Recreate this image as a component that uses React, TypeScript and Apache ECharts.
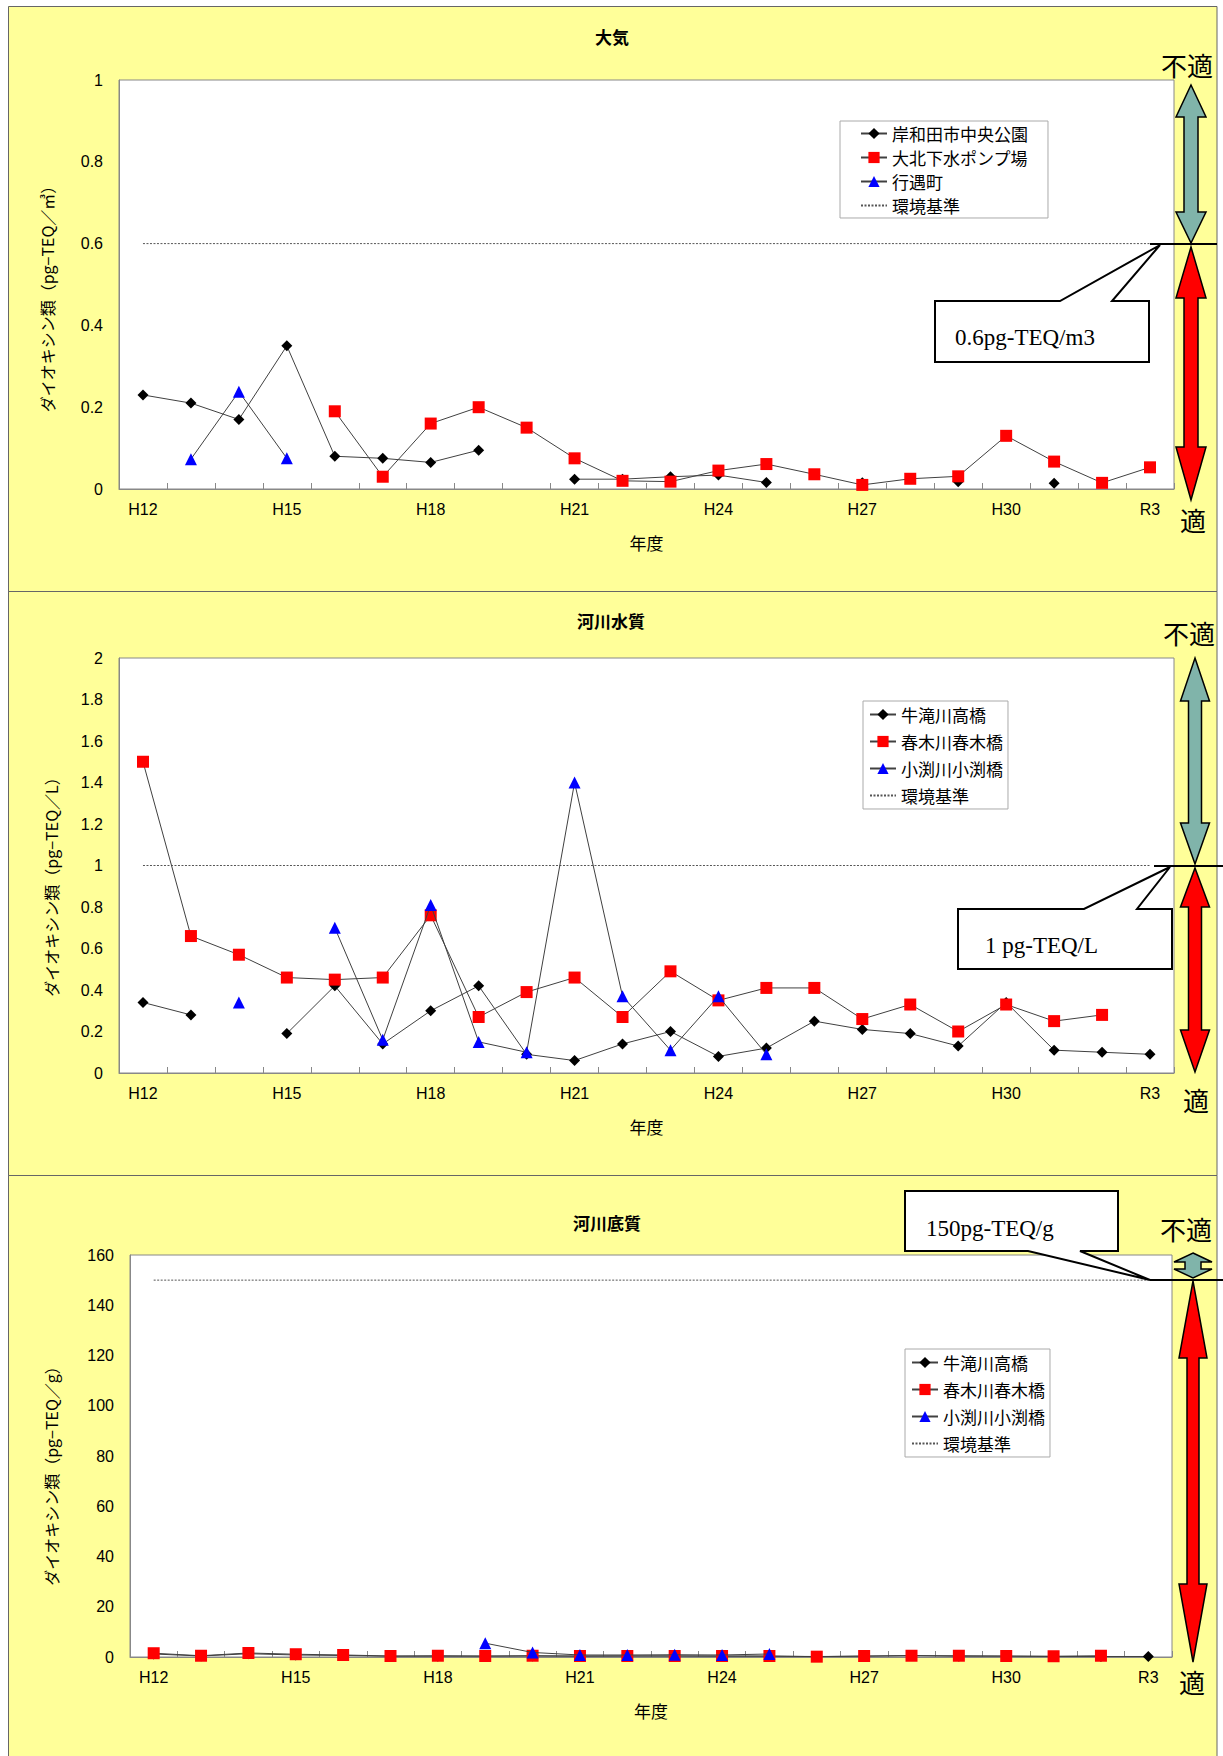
import React, { useEffect, useRef } from "react";
import * as echarts from "echarts";

const years = [
  "H12", "H13", "H14", "H15", "H16", "H17", "H18", "H19", "H20", "H21", "H22",
  "H23", "H24", "H25", "H26", "H27", "H28", "H29", "H30", "H31", "R2", "R3",
];

// 大気 (pg-TEQ/m3)
const airKishiwadaPark = [0.23, 0.21, 0.17, 0.35, 0.08, 0.075, 0.065, 0.095, null, 0.024, 0.024, 0.03, 0.034, 0.016, null, 0.015, null, 0.018, null, 0.014, null, null];
const airOkitaPump = [null, null, null, null, 0.19, 0.03, 0.16, 0.2, 0.15, 0.075, 0.02, 0.018, 0.045, 0.061, 0.036, 0.01, 0.025, 0.031, 0.13, 0.067, 0.015, 0.053];
const airGyogu = [null, 0.073, 0.238, 0.075, null, null, null, null, null, null, null, null, null, null, null, null, null, null, null, null, null, null];
const airStandard = [0.6, 0.6, 0.6, 0.6, 0.6, 0.6, 0.6, 0.6, 0.6, 0.6, 0.6, 0.6, 0.6, 0.6, 0.6, 0.6, 0.6, 0.6, 0.6, 0.6, 0.6, 0.6];

// 河川水質 (pg-TEQ/L)
const waterUshitaki = [0.34, 0.28, null, 0.19, 0.42, 0.14, 0.3, 0.42, 0.09, 0.06, 0.14, 0.2, 0.08, 0.12, 0.25, 0.21, 0.19, 0.13, 0.34, 0.11, 0.1, 0.09];
const waterHaruki = [1.5, 0.66, 0.57, 0.46, 0.45, 0.46, 0.76, 0.27, 0.39, 0.46, 0.27, 0.49, 0.35, 0.41, 0.41, 0.26, 0.33, 0.2, 0.33, 0.25, 0.28, null];
const waterKobuchi = [null, null, 0.34, null, 0.7, 0.16, 0.81, 0.15, 0.1, 1.4, 0.37, 0.11, 0.37, 0.09, null, null, null, null, null, null, null, null];
const waterStandard = [1, 1, 1, 1, 1, 1, 1, 1, 1, 1, 1, 1, 1, 1, 1, 1, 1, 1, 1, 1, 1, 1];

// 河川底質 (pg-TEQ/g)
const sedUshitaki = [1.2, 0.4, 1.3, 0.8, 0.6, 0.3, 0.3, 0.3, 0.4, 0.3, 0.4, 0.4, 0.3, 0.3, 0.2, 0.3, 0.6, 0.3, 0.3, 0.2, 0.2, 0.2];
const sedHaruki = [1.5, 0.5, 1.6, 1.1, 0.8, 0.4, 0.5, 0.4, 0.5, 0.4, 0.4, 0.4, 0.4, 0.4, 0.13, 0.4, 0.5, 0.5, 0.4, 0.3, 0.5, null];
const sedKobuchi = [null, null, null, null, null, null, null, 5.5, 1.8, 0.8, 0.8, 0.9, 0.8, 1.2, null, null, null, null, null, null, null, null];
const sedStandard = [150, 150, 150, 150, 150, 150, 150, 150, 150, 150, 150, 150, 150, 150, 150, 150, 150, 150, 150, 150, 150, 150];

const panelTitles = ["大気", "河川水質", "河川底質"];
const yAxisNames = [
  "ダイオキシン類（pg−TEQ／㎥）",
  "ダイオキシン類（pg−TEQ／L）",
  "ダイオキシン類（pg−TEQ／g）",
];
const airSites = ["岸和田市中央公園", "大北下水ポンプ場", "行遇町"];
const riverSites = ["牛滝川高橋", "春木川春木橋", "小渕川小渕橋"];
const standardName = "環境基準";
const standardLabels = ["0.6pg-TEQ/m3", "1 pg-TEQ/L", "150pg-TEQ/g"];
const yRanges = [
  { min: 0, max: 1, interval: 0.2 },
  { min: 0, max: 2, interval: 0.2 },
  { min: 0, max: 160, interval: 20 },
];

const SANS = "'Liberation Sans', 'Noto Sans CJK JP', sans-serif";
const CJK = "'Noto Sans CJK JP', 'Liberation Sans', sans-serif";
const SERIF = "'Liberation Serif', 'Noto Sans CJK JP', serif";

const markerKinds = [
  { symbol: "diamond", color: "#000000", size: 11 },
  { symbol: "rect", color: "#ff0000", size: 12 },
  { symbol: "triangle", color: "#0000ff", size: 12 },
];

function siteSeries(name: string, data: (number | null)[], idx: number, kind: number) {
  const m = markerKinds[kind];
  return {
    type: "line",
    name,
    data,
    xAxisIndex: idx,
    yAxisIndex: idx,
    symbol: m.symbol,
    symbolSize: m.size,
    showSymbol: true,
    showAllSymbol: true,
    connectNulls: false,
    itemStyle: { color: m.color },
    lineStyle: { color: "#404040", width: 1 },
    emphasis: { disabled: true },
    z: 3 + kind,
  };
}

function standardSeries(data: number[], idx: number) {
  return {
    type: "line",
    name: standardName,
    data,
    xAxisIndex: idx,
    yAxisIndex: idx,
    symbol: "none",
    itemStyle: { color: "#555" },
    lineStyle: { color: "#555", width: 1, type: [2, 1.5] },
    emphasis: { disabled: true },
    z: 2,
  };
}

function arrow(cx: number, top: number, bottom: number, hw: number, sw: number, hTop: number, hBot: number, fill: string) {
  return {
    type: "polygon",
    z: 100,
    silent: true,
    shape: {
      points: [
        [cx, top], [cx + hw, top + hTop], [cx + sw, top + hTop], [cx + sw, bottom - hBot],
        [cx + hw, bottom - hBot], [cx, bottom], [cx - hw, bottom - hBot], [cx - sw, bottom - hBot],
        [cx - sw, top + hTop], [cx - hw, top + hTop],
      ],
    },
    style: { fill, stroke: "#000", lineWidth: 1.5 },
  };
}

function callout(points: number[][]) {
  return {
    type: "polygon",
    z: 100,
    silent: true,
    shape: { points },
    style: { fill: "#fff", stroke: "#000", lineWidth: 2 },
  };
}

function text(x: number, y: number, t: string, opts: any = {}) {
  return {
    type: "text",
    x,
    y,
    z: 101,
    silent: true,
    rotation: opts.rotation || 0,
    style: {
      text: t,
      fill: "#000",
      fontSize: opts.fontSize || 16,
      fontFamily: opts.fontFamily || CJK,
      fontWeight: opts.fontWeight || "normal",
      align: opts.align || "center",
      verticalAlign: "middle",
    },
  };
}

function hline(x1: number, x2: number, y: number) {
  return {
    type: "line",
    z: 100,
    silent: true,
    shape: { x1, y1: y, x2, y2: y },
    style: { stroke: "#000", lineWidth: 2 },
  };
}

function frame(y: number, h: number) {
  return {
    type: "rect",
    z: 1,
    silent: true,
    shape: { x: 8.5, y: y + 0.5, width: 1208.5, height: h },
    style: { fill: "none", stroke: "#666", lineWidth: 1 },
  };
}

const grids = [
  { left: 119, top: 80, width: 1055, height: 409 },
  { left: 119, top: 658, width: 1055, height: 415 },
  { left: 130, top: 1255, width: 1042, height: 402 },
];

const legendBoxes = [
  { left: 840, top: 121, padding: [4, 20, 4, 20], itemGap: 7 },
  { left: 863, top: 701, padding: [5, 5, 5, 6], itemGap: 10 },
  { left: 905, top: 1349, padding: [5, 5, 5, 6], itemGap: 10 },
];

function buildOption() {
  const xAxis = grids.map((_, i) => ({
    type: "category",
    gridIndex: i,
    data: years,
    boundaryGap: true,
    axisLine: { show: true, lineStyle: { color: "#888", width: 1 } },
    axisTick: { show: true, inside: true, length: 6, interval: 0, alignWithLabel: false, lineStyle: { color: "#888" } },
    axisLabel: { interval: 2, fontSize: 16, color: "#000", margin: 12, fontFamily: SANS },
    splitLine: { show: false },
    name: "年度",
    nameLocation: "middle",
    nameGap: 45,
    nameTextStyle: { fontSize: 17, color: "#000", fontFamily: CJK },
  }));
  const yAxis = grids.map((_, i) => ({
    type: "value",
    gridIndex: i,
    min: yRanges[i].min,
    max: yRanges[i].max,
    interval: yRanges[i].interval,
    axisLine: { show: true, lineStyle: { color: "#888", width: 1 } },
    axisTick: { show: false },
    splitLine: { show: false },
    axisLabel: { fontSize: 16, color: "#000", margin: 16, fontFamily: SANS },
  }));

  const series: any[] = [
    siteSeries(airSites[0], airKishiwadaPark, 0, 0),
    siteSeries(airSites[1], airOkitaPump, 0, 1),
    siteSeries(airSites[2], airGyogu, 0, 2),
    standardSeries(airStandard, 0),
    siteSeries(riverSites[0], waterUshitaki, 1, 0),
    siteSeries(riverSites[1], waterHaruki, 1, 1),
    siteSeries(riverSites[2], waterKobuchi, 1, 2),
    standardSeries(waterStandard, 1),
    siteSeries(riverSites[0], sedUshitaki, 2, 0),
    siteSeries(riverSites[1], sedHaruki, 2, 1),
    siteSeries(riverSites[2], sedKobuchi, 2, 2),
    standardSeries(sedStandard, 2),
  ];

  const standardLegendItem = {
    name: standardName,
    itemStyle: { opacity: 0, color: "rgba(0,0,0,0)", borderWidth: 0 },
  };
  const legendNames: any[][] = [
    [...airSites, standardLegendItem],
    [...riverSites, standardLegendItem],
    [...riverSites, standardLegendItem],
  ];
  const legend = legendBoxes.map((b, i) => ({
    show: true,
    orient: "vertical",
    left: b.left,
    top: b.top,
    padding: b.padding,
    itemGap: b.itemGap,
    itemWidth: 26,
    itemHeight: 14,
    data: legendNames[i],
    backgroundColor: "#fff",
    borderColor: "#aaa",
    borderWidth: 1,
    borderRadius: 0,
    selectedMode: false,
    textStyle: { fontSize: 17, color: "#000", fontFamily: CJK, padding: [0, 0, 0, 0] },
  }));

  const graphic: any[] = [
    // white page margins outside panels
    { type: "rect", z: 0, silent: true, shape: { x: 0, y: 0, width: 1223, height: 6 }, style: { fill: "#fff" } },
    { type: "rect", z: 0, silent: true, shape: { x: 0, y: 0, width: 8, height: 1756 }, style: { fill: "#fff" } },
    { type: "rect", z: 0, silent: true, shape: { x: 1217, y: 0, width: 6, height: 1756 }, style: { fill: "#fff" } },
    frame(6, 585),
    frame(591, 584),
    frame(1175, 600),
    // titles
    text(612, 36, panelTitles[0], { fontSize: 17, fontWeight: "bold" }),
    text(611, 620, panelTitles[1], { fontSize: 17, fontWeight: "bold" }),
    text(607, 1222, panelTitles[2], { fontSize: 17, fontWeight: "bold" }),
    // y axis names
    text(47, 295, yAxisNames[0], { fontSize: 16, rotation: Math.PI / 2 }),
    text(51, 883, yAxisNames[1], { fontSize: 16, rotation: Math.PI / 2 }),
    text(51, 1472, yAxisNames[2], { fontSize: 16, rotation: Math.PI / 2 }),
    // 不適 / 適
    text(1187, 67, "不適", { fontSize: 26, fontFamily: SERIF }),
    text(1193, 522, "適", { fontSize: 26, fontFamily: SERIF }),
    text(1189, 635, "不適", { fontSize: 26, fontFamily: SERIF }),
    text(1196, 1102, "適", { fontSize: 26, fontFamily: SERIF }),
    text(1186, 1231, "不適", { fontSize: 26, fontFamily: SERIF }),
    text(1192, 1684, "適", { fontSize: 26, fontFamily: SERIF }),
    // arrows
    arrow(1191, 85, 243, 15, 7, 32, 31, "#80b4aa"),
    arrow(1191, 247, 500, 15, 7, 51, 53, "#ff0000"),
    arrow(1195, 658, 864, 14.5, 6.5, 43, 41, "#80b4aa"),
    arrow(1195, 868, 1072, 14.5, 6.5, 39, 42, "#ff0000"),
    arrow(1193, 1253, 1278, 19, 8, 9, 9, "#80b4aa"),
    arrow(1193, 1281, 1662, 14, 6, 77, 78, "#ff0000"),
    // standard level lines
    hline(1150, 1217, 244),
    hline(1154, 1223, 866),
    hline(1150, 1223, 1280),
    // callouts
    callout([[935, 301], [1060, 301], [1160, 245], [1112, 301], [1149, 301], [1149, 362], [935, 362]]),
    callout([[958, 909], [1084, 909], [1170, 867], [1137, 909], [1172, 909], [1172, 969], [958, 969]]),
    callout([[905, 1191], [1118, 1191], [1118, 1251], [1080, 1251], [1150, 1280], [1028, 1251], [905, 1251]]),
    text(955, 337, standardLabels[0], { fontSize: 23, fontFamily: SERIF, align: "left" }),
    text(985, 945, standardLabels[1], { fontSize: 23, fontFamily: SERIF, align: "left" }),
    text(926, 1228, standardLabels[2], { fontSize: 23, fontFamily: SERIF, align: "left" }),
  ];

  return {
    animation: false,
    backgroundColor: "#ffff99",
    textStyle: { fontFamily: SANS },
    grid: grids.map((g) => ({
      ...g,
      show: true,
      backgroundColor: "#fff",
      borderColor: "#888",
      borderWidth: 1,
      containLabel: false,
    })),
    xAxis,
    yAxis,
    legend,
    series,
    graphic,
  };
}

export default function App() {
  const ref = useRef<HTMLDivElement>(null);
  useEffect(() => {
    if (!ref.current) return;
    const chart = echarts.init(ref.current, undefined, { renderer: "svg" });
    chart.setOption(buildOption() as any);
    return () => chart.dispose();
  }, []);
  return (
    <div
      ref={ref}
      style={{ position: "absolute", left: 0, top: 0, width: 1223, height: 1756 }}
    />
  );
}
